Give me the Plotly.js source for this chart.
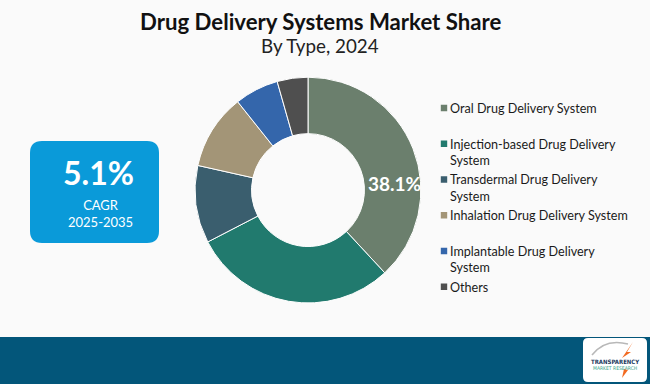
<!DOCTYPE html>
<html>
<head>
<meta charset="utf-8">
<script src="https://cdn.plot.ly/plotly-3.0.1.min.js"></script>
<style>
html,body{margin:0;padding:0;background:#fafafa;}
#chart{width:650px;height:384px;}
.legend .legendtext{transform:translateX(-14px);}
</style>
</head>
<body>
<div id="chart"></div>
<script>
const categories = [
  "Oral Drug Delivery System",
  "Injection-based Drug Delivery<br>System",
  "Transdermal Drug Delivery<br>System",
  "Inhalation Drug Delivery System",
  "Implantable Drug Delivery<br>System",
  "Others"
];
const shares = [38.1, 29.3, 11.1, 10.8, 6.3, 4.4];
const colors = ["#6b7f6d", "#217a6e", "#3a5e6e", "#a39577", "#3466ab", "#4f4f4f"];
const titleText = "Drug Delivery Systems Market Share";
const subtitleText = "By Type, 2024";
const cagrValue = "5.1%";
const cagrLabel = "CAGR";
const cagrPeriod = "2025-2035";

// pad single-line legend labels to two lines so spacing matches
const legendLabels = categories.map(c => c.indexOf("<br>") >= 0 ? c : c + "<br>&nbsp;");

const trace = {
  type: "pie",
  labels: legendLabels,
  values: shares,
  hole: 0.5,
  sort: false,
  direction: "clockwise",
  rotation: 0,
  textinfo: "none",
  marker: {colors: colors, line: {color: "#ffffff", width: 1}},
  domain: {x: [0.3, 0.6477], y: [0.211, 0.799]},
  showlegend: true
};

const layout = {
  width: 650, height: 384,
  margin: {l: 0, r: 0, t: 0, b: 0},
  paper_bgcolor: "#fafafa",
  plot_bgcolor: "#fafafa",
  showlegend: true,
  legend: {
    x: 424 / 650, y: 0.757, xanchor: "left", yanchor: "top",
    valign: "top",
    font: {family: "Lato, 'Open Sans', sans-serif", size: 12.6, color: "#1a1a1a"},
    itemwidth: 30,
    tracegroupgap: 0,
    bgcolor: "rgba(0,0,0,0)"
  },
  shapes: [
    {type: "rect", xref: "paper", yref: "paper", x0: 0, x1: 1, y0: 0, y1: 0.1224,
     fillcolor: "#03567a", line: {width: 0}, layer: "below"},
    {type: "path", xref: "paper", yref: "paper",
     path: roundRect(30/650, 1 - 243/384, 159/650, 1 - 141/384, 12/650, 12/384),
     fillcolor: "#0a9ad9", line: {width: 0}},
    {type: "path", xref: "paper", yref: "paper",
     path: roundRect(583/650, 1 - 382/384, 647/650, 1 - 338/384, 5/650, 5/384),
     fillcolor: "#ffffff", line: {width: 0}},
    {type: "path", xref: "paper", yref: "paper",
     path: "M " + (592/650) + "," + (1-355/384) + " Q " + (605/650) + "," + (1-338/384) + " " + (628/650) + "," + (1-344/384),
     line: {color: "#b8b8b8", width: 1.5}},
    {type: "path", xref: "paper", yref: "paper",
     path: "M " + (633/650) + "," + (1-342/384) + " L " + (627/650) + "," + (1-352/384) + " L " + (631/650) + "," + (1-352/384) + " L " + (622/650) + "," + (1-358/384) + " Z",
     fillcolor: "#f26a21", line: {width: 0}},
    {type: "path", xref: "paper", yref: "paper",
     path: "M " + (622/650) + "," + (1-378/384) + " L " + (628/650) + "," + (1-370/384) + " L " + (624/650) + "," + (1-369/384) + " Z",
     fillcolor: "#f26a21", line: {width: 0}}
  ],
  annotations: [
    {text: "<b>" + titleText + "</b>", xref: "paper", yref: "paper", x: 321/650, y: 1 - 21/384,
     xanchor: "center", yanchor: "middle", showarrow: false,
     font: {family: "Lato, 'Open Sans', sans-serif", size: 22.2, color: "#111111"}},
    {text: subtitleText, xref: "paper", yref: "paper", x: 320/650, y: 1 - 45/384,
     xanchor: "center", yanchor: "middle", showarrow: false,
     font: {family: "Lato, 'Open Sans', sans-serif", size: 18.8, color: "#222222"}},
    {text: "<b>" + shares[0].toFixed(1) + "%</b>", xref: "paper", yref: "paper", x: 395/650, y: 1 - 183/384,
     xanchor: "center", yanchor: "middle", showarrow: false,
     font: {family: "Lato, 'Open Sans', sans-serif", size: 19, color: "#ffffff"}},
    {text: "<b>" + cagrValue + "</b>", xref: "paper", yref: "paper", x: 98.5/650, y: 1 - 172/384,
     xanchor: "center", yanchor: "middle", showarrow: false,
     font: {family: "Lato, 'Open Sans', sans-serif", size: 32, color: "#ffffff"}},
    {text: cagrLabel + "<br>" + cagrPeriod, xref: "paper", yref: "paper", x: 100/650, y: 1 - 213/384,
     xanchor: "center", yanchor: "middle", showarrow: false, align: "center",
     font: {family: "Lato, 'Open Sans', sans-serif", size: 13, color: "#ffffff"}},
    {text: "<b>TRANSPARENCY</b>", xref: "paper", yref: "paper", x: 615/650, y: 1 - 361/384,
     xanchor: "center", yanchor: "middle", showarrow: false,
     font: {family: "'DejaVu Sans Condensed', 'Liberation Sans Narrow', sans-serif", size: 6, color: "#1c3a5e"}},
    {text: "MARKET RESEARCH", xref: "paper", yref: "paper", x: 615/650, y: 1 - 368/384,
     xanchor: "center", yanchor: "middle", showarrow: false,
     font: {family: "'DejaVu Sans Condensed', 'Liberation Sans Narrow', sans-serif", size: 5, color: "#3aa58a"}}
  ]
};

function roundRect(x0, y0, x1, y1, rx, ry) {
  return "M " + (x0 + rx) + "," + y0 +
    " L " + (x1 - rx) + "," + y0 +
    " Q " + x1 + "," + y0 + " " + x1 + "," + (y0 + ry) +
    " L " + x1 + "," + (y1 - ry) +
    " Q " + x1 + "," + y1 + " " + (x1 - rx) + "," + y1 +
    " L " + (x0 + rx) + "," + y1 +
    " Q " + x0 + "," + y1 + " " + x0 + "," + (y1 - ry) +
    " L " + x0 + "," + (y0 + ry) +
    " Q " + x0 + "," + y0 + " " + (x0 + rx) + "," + y0 + " Z";
}

Plotly.newPlot("chart", [trace], layout, {displayModeBar: false, staticPlot: true}).then(function (gd) {
  // smaller square legend swatches like the reference
  gd.querySelectorAll(".legendpie").forEach(function (p) {
    p.setAttribute("d", "M3.2,3.2H-3.2V-3.2H3.2Z");
    p.style.strokeWidth = "0";
  });
});
</script>
</body>
</html>
